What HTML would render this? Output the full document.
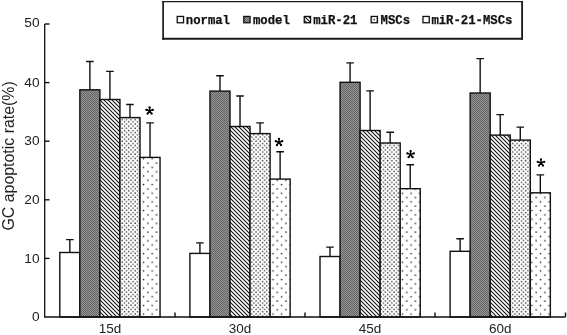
<!DOCTYPE html><html><head><meta charset="utf-8"><style>html,body{margin:0;padding:0;background:#fff;}svg{display:block}</style></head><body>
<svg style="filter:grayscale(1)" width="567" height="335" viewBox="0 0 567 335">
<defs>
<pattern id="pModel" patternUnits="userSpaceOnUse" width="2" height="2"><rect width="2" height="2" fill="#929292"/><rect width="1" height="1" fill="#666666"/><rect x="1" y="1" width="1" height="1" fill="#666666"/></pattern>
<pattern id="pHatch" patternUnits="userSpaceOnUse" width="4" height="4"><rect width="4" height="4" fill="#fff"/><path d="M-1,-1 L5,5 M-1,3 L1,5 M3,-1 L5,1" stroke="#111" stroke-width="1.1"/></pattern>
<pattern id="pDense" patternUnits="userSpaceOnUse" x="0.43" y="2.18" width="4.315" height="4.315"><rect width="4.315" height="4.315" fill="#fff"/><circle cx="1" cy="1" r="0.75" fill="#333"/><circle cx="3.1575" cy="3.1575" r="0.75" fill="#333"/></pattern>
<pattern id="pSparse" patternUnits="userSpaceOnUse" x="0.14" y="6.64" width="8.63" height="8.63"><rect width="8.63" height="8.63" fill="#fff"/><circle cx="1" cy="1" r="0.85" fill="#333"/><circle cx="5.315" cy="5.315" r="0.85" fill="#333"/></pattern>
</defs>
<rect width="567" height="335" fill="#fff"/>
<rect x="59.80" y="252.50" width="20.05" height="64.50" fill="#fff" stroke="#111" stroke-width="1.4"/>
<rect x="79.85" y="89.80" width="20.05" height="227.20" fill="url(#pModel)" stroke="#111" stroke-width="1.4"/>
<rect x="99.90" y="99.50" width="20.05" height="217.50" fill="url(#pHatch)" stroke="#111" stroke-width="1.4"/>
<rect x="119.95" y="117.60" width="20.05" height="199.40" fill="url(#pDense)" stroke="#111" stroke-width="1.4"/>
<rect x="140.00" y="157.40" width="20.05" height="159.60" fill="url(#pSparse)" stroke="#111" stroke-width="1.4"/>
<path d="M69.83,252.50 V239.60 M66.03,239.60 H73.62" stroke="#111" stroke-width="1.4" fill="none"/>
<path d="M89.88,89.80 V61.50 M86.08,61.50 H93.67" stroke="#111" stroke-width="1.4" fill="none"/>
<path d="M109.93,99.50 V71.40 M106.13,71.40 H113.73" stroke="#111" stroke-width="1.4" fill="none"/>
<path d="M129.97,117.60 V104.50 M126.17,104.50 H133.78" stroke="#111" stroke-width="1.4" fill="none"/>
<path d="M150.03,157.40 V122.90 M146.22,122.90 H153.83" stroke="#111" stroke-width="1.4" fill="none"/>
<path d="M149.60,110.85 L149.60,107.45 M149.60,110.85 L146.37,109.80 M149.60,110.85 L147.60,113.60 M149.60,110.85 L151.60,113.60 M149.60,110.85 L152.83,109.80 " stroke="#000" stroke-width="1.45" stroke-linecap="round" fill="none"/>
<circle cx="149.60" cy="107.45" r="1.15" fill="#000"/>
<circle cx="146.37" cy="109.80" r="1.15" fill="#000"/>
<circle cx="147.60" cy="113.60" r="1.15" fill="#000"/>
<circle cx="151.60" cy="113.60" r="1.15" fill="#000"/>
<circle cx="152.83" cy="109.80" r="1.15" fill="#000"/>
<text x="109.92" y="333" font-family="Liberation Sans" font-size="13.5" text-anchor="middle" fill="#222">15d</text>
<rect x="189.90" y="253.40" width="20.05" height="63.60" fill="#fff" stroke="#111" stroke-width="1.4"/>
<rect x="209.95" y="91.10" width="20.05" height="225.90" fill="url(#pModel)" stroke="#111" stroke-width="1.4"/>
<rect x="230.00" y="126.50" width="20.05" height="190.50" fill="url(#pHatch)" stroke="#111" stroke-width="1.4"/>
<rect x="250.05" y="133.60" width="20.05" height="183.40" fill="url(#pDense)" stroke="#111" stroke-width="1.4"/>
<rect x="270.10" y="179.10" width="20.05" height="137.90" fill="url(#pSparse)" stroke="#111" stroke-width="1.4"/>
<path d="M199.92,253.40 V242.90 M196.12,242.90 H203.72" stroke="#111" stroke-width="1.4" fill="none"/>
<path d="M219.97,91.10 V75.70 M216.17,75.70 H223.78" stroke="#111" stroke-width="1.4" fill="none"/>
<path d="M240.02,126.50 V96.00 M236.22,96.00 H243.82" stroke="#111" stroke-width="1.4" fill="none"/>
<path d="M260.07,133.60 V122.90 M256.27,122.90 H263.88" stroke="#111" stroke-width="1.4" fill="none"/>
<path d="M280.12,179.10 V151.80 M276.32,151.80 H283.92" stroke="#111" stroke-width="1.4" fill="none"/>
<path d="M279.00,142.25 L279.00,138.85 M279.00,142.25 L275.77,141.20 M279.00,142.25 L277.00,145.00 M279.00,142.25 L281.00,145.00 M279.00,142.25 L282.23,141.20 " stroke="#000" stroke-width="1.45" stroke-linecap="round" fill="none"/>
<circle cx="279.00" cy="138.85" r="1.15" fill="#000"/>
<circle cx="275.77" cy="141.20" r="1.15" fill="#000"/>
<circle cx="277.00" cy="145.00" r="1.15" fill="#000"/>
<circle cx="281.00" cy="145.00" r="1.15" fill="#000"/>
<circle cx="282.23" cy="141.20" r="1.15" fill="#000"/>
<text x="240.02" y="333" font-family="Liberation Sans" font-size="13.5" text-anchor="middle" fill="#222">30d</text>
<rect x="320.00" y="256.50" width="20.05" height="60.50" fill="#fff" stroke="#111" stroke-width="1.4"/>
<rect x="340.05" y="82.30" width="20.05" height="234.70" fill="url(#pModel)" stroke="#111" stroke-width="1.4"/>
<rect x="360.10" y="130.50" width="20.05" height="186.50" fill="url(#pHatch)" stroke="#111" stroke-width="1.4"/>
<rect x="380.15" y="143.00" width="20.05" height="174.00" fill="url(#pDense)" stroke="#111" stroke-width="1.4"/>
<rect x="400.20" y="188.70" width="20.05" height="128.30" fill="url(#pSparse)" stroke="#111" stroke-width="1.4"/>
<path d="M330.02,256.50 V247.10 M326.22,247.10 H333.82" stroke="#111" stroke-width="1.4" fill="none"/>
<path d="M350.07,82.30 V62.90 M346.27,62.90 H353.88" stroke="#111" stroke-width="1.4" fill="none"/>
<path d="M370.12,130.50 V90.90 M366.32,90.90 H373.93" stroke="#111" stroke-width="1.4" fill="none"/>
<path d="M390.17,143.00 V132.30 M386.37,132.30 H393.97" stroke="#111" stroke-width="1.4" fill="none"/>
<path d="M410.22,188.70 V164.70 M406.42,164.70 H414.02" stroke="#111" stroke-width="1.4" fill="none"/>
<path d="M410.60,154.45 L410.60,151.05 M410.60,154.45 L407.37,153.40 M410.60,154.45 L408.60,157.20 M410.60,154.45 L412.60,157.20 M410.60,154.45 L413.83,153.40 " stroke="#000" stroke-width="1.45" stroke-linecap="round" fill="none"/>
<circle cx="410.60" cy="151.05" r="1.15" fill="#000"/>
<circle cx="407.37" cy="153.40" r="1.15" fill="#000"/>
<circle cx="408.60" cy="157.20" r="1.15" fill="#000"/>
<circle cx="412.60" cy="157.20" r="1.15" fill="#000"/>
<circle cx="413.83" cy="153.40" r="1.15" fill="#000"/>
<text x="370.12" y="333" font-family="Liberation Sans" font-size="13.5" text-anchor="middle" fill="#222">45d</text>
<rect x="450.10" y="251.30" width="20.05" height="65.70" fill="#fff" stroke="#111" stroke-width="1.4"/>
<rect x="470.15" y="93.00" width="20.05" height="224.00" fill="url(#pModel)" stroke="#111" stroke-width="1.4"/>
<rect x="490.20" y="135.10" width="20.05" height="181.90" fill="url(#pHatch)" stroke="#111" stroke-width="1.4"/>
<rect x="510.25" y="140.10" width="20.05" height="176.90" fill="url(#pDense)" stroke="#111" stroke-width="1.4"/>
<rect x="530.30" y="192.80" width="20.05" height="124.20" fill="url(#pSparse)" stroke="#111" stroke-width="1.4"/>
<path d="M460.12,251.30 V238.70 M456.32,238.70 H463.92" stroke="#111" stroke-width="1.4" fill="none"/>
<path d="M480.17,93.00 V58.60 M476.37,58.60 H483.97" stroke="#111" stroke-width="1.4" fill="none"/>
<path d="M500.22,135.10 V114.60 M496.42,114.60 H504.02" stroke="#111" stroke-width="1.4" fill="none"/>
<path d="M520.27,140.10 V127.10 M516.48,127.10 H524.07" stroke="#111" stroke-width="1.4" fill="none"/>
<path d="M540.32,192.80 V174.90 M536.52,174.90 H544.12" stroke="#111" stroke-width="1.4" fill="none"/>
<path d="M541.00,162.85 L541.00,159.45 M541.00,162.85 L537.77,161.80 M541.00,162.85 L539.00,165.60 M541.00,162.85 L543.00,165.60 M541.00,162.85 L544.23,161.80 " stroke="#000" stroke-width="1.45" stroke-linecap="round" fill="none"/>
<circle cx="541.00" cy="159.45" r="1.15" fill="#000"/>
<circle cx="537.77" cy="161.80" r="1.15" fill="#000"/>
<circle cx="539.00" cy="165.60" r="1.15" fill="#000"/>
<circle cx="543.00" cy="165.60" r="1.15" fill="#000"/>
<circle cx="544.23" cy="161.80" r="1.15" fill="#000"/>
<text x="500.22" y="333" font-family="Liberation Sans" font-size="13.5" text-anchor="middle" fill="#222">60d</text>
<path d="M44.7,23.9 V317 H565.5" stroke="#111" stroke-width="1.3" fill="none"/>
<text x="39.6" y="320.85" font-family="Liberation Sans" font-size="13.7" text-anchor="end" fill="#222">0</text>
<path d="M44.7,258.40 H49.5" stroke="#111" stroke-width="1.4"/>
<text x="39.6" y="262.85" font-family="Liberation Sans" font-size="13.7" text-anchor="end" fill="#222">10</text>
<path d="M44.7,199.80 H49.5" stroke="#111" stroke-width="1.4"/>
<text x="39.6" y="204.35" font-family="Liberation Sans" font-size="13.7" text-anchor="end" fill="#222">20</text>
<path d="M44.7,141.20 H49.5" stroke="#111" stroke-width="1.4"/>
<text x="39.6" y="145.25" font-family="Liberation Sans" font-size="13.7" text-anchor="end" fill="#222">30</text>
<path d="M44.7,82.60 H49.5" stroke="#111" stroke-width="1.4"/>
<text x="39.6" y="86.85" font-family="Liberation Sans" font-size="13.7" text-anchor="end" fill="#222">40</text>
<path d="M44.7,24.00 H49.5" stroke="#111" stroke-width="1.4"/>
<text x="39.6" y="27.45" font-family="Liberation Sans" font-size="13.7" text-anchor="end" fill="#222">50</text>
<path d="M175,317 V312.5" stroke="#111" stroke-width="1.4"/>
<path d="M305,317 V312.5" stroke="#111" stroke-width="1.4"/>
<path d="M435,317 V312.5" stroke="#111" stroke-width="1.4"/>
<path d="M565.5,317 V312.5" stroke="#111" stroke-width="1.4"/>
<text transform="translate(14.3,230.5) rotate(-90)" font-family="Liberation Sans" font-size="15.9" fill="#222">GC apoptotic rate(%)</text>
<rect x="163.1" y="1.6" width="359" height="37.2" fill="#fff"/>
<path d="M162.25,1.6 H522.95" stroke="#1a1a1a" stroke-width="1.4"/>
<path d="M162.25,38.8 H522.95" stroke="#1a1a1a" stroke-width="2.0"/>
<path d="M163.1,0.9 V39.8" stroke="#1a1a1a" stroke-width="1.7"/>
<path d="M522.1,0.9 V39.8" stroke="#1a1a1a" stroke-width="1.8"/>
<rect x="177.25" y="16.45" width="6.3" height="6.3" fill="#fff" stroke="#111" stroke-width="1.3"/>
<text x="185.80" y="24" font-family="Liberation Mono" font-weight="bold" font-size="12.27" fill="#111" stroke="#111" stroke-width="0.25">normal</text>
<rect x="243.75" y="16.45" width="6.3" height="6.3" fill="url(#pModel)" stroke="#111" stroke-width="1.3"/>
<text x="253.00" y="24" font-family="Liberation Mono" font-weight="bold" font-size="12.27" fill="#111" stroke="#111" stroke-width="0.25">model</text>
<rect x="304.25" y="16.45" width="6.3" height="6.3" fill="url(#pHatch)" stroke="#111" stroke-width="1.3"/>
<text x="313.20" y="24" font-family="Liberation Mono" font-weight="bold" font-size="12.27" fill="#111" stroke="#111" stroke-width="0.25">miR-21</text>
<rect x="371.15" y="16.45" width="6.3" height="6.3" fill="#fff" stroke="#111" stroke-width="1.3"/>
<circle cx="374.30" cy="19.6" r="0.9" fill="#444"/>
<rect x="371.70" y="17.80" width="0.8" height="0.8" fill="#333"/>
<rect x="376.10" y="17.80" width="0.8" height="0.8" fill="#333"/>
<rect x="371.70" y="20.60" width="0.8" height="0.8" fill="#333"/>
<rect x="376.10" y="20.60" width="0.8" height="0.8" fill="#333"/>
<text x="380.60" y="24" font-family="Liberation Mono" font-weight="bold" font-size="12.27" fill="#111" stroke="#111" stroke-width="0.25">MSCs</text>
<rect x="422.95" y="16.45" width="6.3" height="6.3" fill="#fff" stroke="#111" stroke-width="1.3"/>
<text x="431.40" y="24" font-family="Liberation Mono" font-weight="bold" font-size="12.27" fill="#111" stroke="#111" stroke-width="0.25">miR-21-MSCs</text>
</svg></body></html>
